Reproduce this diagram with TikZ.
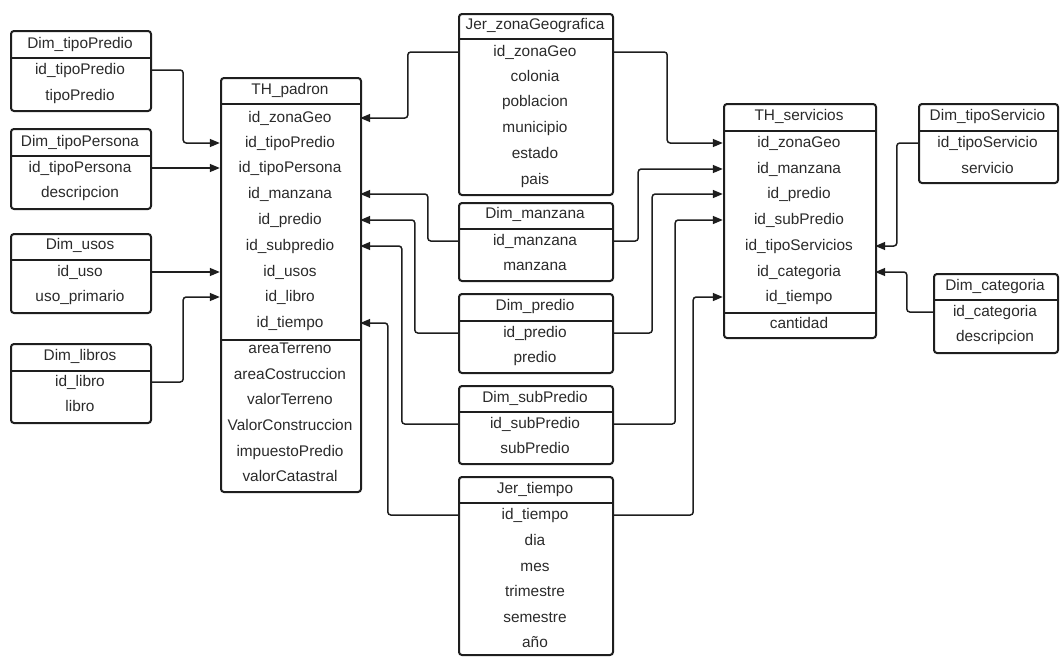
\documentclass[tikz,border=0pt]{standalone}
\usepackage{fontspec}
\setmainfont{Liberation Sans}
\usetikzlibrary{arrows.meta}
\definecolor{ink}{HTML}{1E1E1E}
\definecolor{txt}{HTML}{2A2A2A}
\tikzset{
  tbl/.style={draw=ink, line width=2pt, rounded corners=3pt, inner sep=0pt, anchor=north west},
  hsep/.style={draw=ink, line width=2pt},
  msep/.style={draw=ink, line width=1.1pt},
  row/.style={inner sep=0pt, align=center, text=txt, font=\fontsize{15.4}{18}\selectfont, text height=11pt, text depth=2pt},
  conn/.style={draw=ink, line width=1.5pt, rounded corners=3pt, -{Triangle[length=10pt,width=8pt]}}
}
\begin{document}
\begin{tikzpicture}[x=1pt,y=-1pt]
\useasboundingbox (0,0) rectangle (1060,656);

% ---------- Dim_tipoPredio
\node[tbl, minimum width=140pt, minimum height=80pt] (tPbox) at (10,30) {};
\draw[hsep] (10,58) -- (150,58);
\node[row, text width=140pt] (tPh) at (80,44) {Dim\_tipoPredio};
\node[row, text width=140pt] (tP1) at (80,70) {id\_tipoPredio};
\node[row, text width=140pt] (tP2) at (80,96) {tipoPredio};

% ---------- Dim_tipoPersona
\node[tbl, minimum width=140pt, minimum height=80pt] (tEbox) at (10,128) {};
\draw[hsep] (10,156) -- (150,156);
\node[row, text width=140pt] (tEh) at (80,142) {Dim\_tipoPersona};
\node[row, text width=140pt] (tE1) at (80,168) {id\_tipoPersona};
\node[row, text width=140pt] (tE2) at (80,193) {descripcion};

% ---------- Dim_usos
\node[tbl, minimum width=140pt, minimum height=79pt] (usbox) at (10,233) {};
\draw[hsep] (10,260) -- (150,260);
\node[row, text width=140pt] (ush) at (80,245) {Dim\_usos};
\node[row, text width=140pt] (us1) at (80,272) {id\_uso};
\node[row, text width=140pt] (us2) at (80,297) {uso\_primario};

% ---------- Dim_libros
\node[tbl, minimum width=140pt, minimum height=79pt] (lbbox) at (10,343) {};
\draw[hsep] (10,371) -- (150,371);
\node[row, text width=140pt] (lbh) at (80,356) {Dim\_libros};
\node[row, text width=140pt] (lb1) at (80,382) {id\_libro};
\node[row, text width=140pt] (lb2) at (80,407) {libro};

% ---------- TH_padron
\node[tbl, minimum width=140pt, minimum height=414pt] (pdbox) at (220,77) {};
\draw[hsep] (220,104) -- (360,104);
\draw[msep] (220,340) -- (360,340);
\node[row, text width=140pt] (pdh) at (290,90) {TH\_padron};
\node[row, text width=140pt] (pd1) at (290,118) {id\_zonaGeo};
\node[row, text width=140pt] (pd2) at (290,143) {id\_tipoPredio};
\node[row, text width=140pt] (pd3) at (290,168) {id\_tipoPersona};
\node[row, text width=140pt] (pd4) at (290,194) {id\_manzana};
\node[row, text width=140pt] (pd5) at (290,220) {id\_predio};
\node[row, text width=140pt] (pd6) at (290,246) {id\_subpredio};
\node[row, text width=140pt] (pd7) at (290,272) {id\_usos};
\node[row, text width=140pt] (pd8) at (290,297) {id\_libro};
\node[row, text width=140pt] (pd9) at (290,323) {id\_tiempo};
\node[row, text width=140pt] (pm1) at (290,349) {areaTerreno};
\node[row, text width=140pt] (pm2) at (290,375) {areaCostruccion};
\node[row, text width=140pt] (pm3) at (290,400) {valorTerreno};
\node[row, text width=140pt] (pm4) at (290,426) {ValorConstruccion};
\node[row, text width=140pt] (pm5) at (290,452) {impuestoPredio};
\node[row, text width=140pt] (pm6) at (290,477) {valorCatastral};

% ---------- Jer_zonaGeografica
\node[tbl, minimum width=154pt, minimum height=181pt] (zgbox) at (458,13) {};
\draw[hsep] (458,39) -- (612,39);
\node[row, text width=154pt] (zgh) at (535,25) {Jer\_zonaGeografica};
\node[row, text width=154pt] (zg1) at (535,52) {id\_zonaGeo};
\node[row, text width=154pt] (zg2) at (535,77) {colonia};
\node[row, text width=154pt] (zg3) at (535,102) {poblacion};
\node[row, text width=154pt] (zg4) at (535,128) {municipio};
\node[row, text width=154pt] (zg5) at (535,154) {estado};
\node[row, text width=154pt] (zg6) at (535,180) {pais};

% ---------- Dim_manzana
\node[tbl, minimum width=154pt, minimum height=78pt] (mzbox) at (458,202) {};
\draw[hsep] (458,229) -- (612,229);
\node[row, text width=154pt] (mzh) at (535,214) {Dim\_manzana};
\node[row, text width=154pt] (mz1) at (535,241) {id\_manzana};
\node[row, text width=154pt] (mz2) at (535,266) {manzana};

% ---------- Dim_predio
\node[tbl, minimum width=154pt, minimum height=79pt] (prbox) at (458,293) {};
\draw[hsep] (458,321) -- (612,321);
\node[row, text width=154pt] (prh) at (535,306) {Dim\_predio};
\node[row, text width=154pt] (pr1) at (535,333) {id\_predio};
\node[row, text width=154pt] (pr2) at (535,358) {predio};

% ---------- Dim_subPredio
\node[tbl, minimum width=154pt, minimum height=78pt] (spbox) at (458,385) {};
\draw[hsep] (458,412) -- (612,412);
\node[row, text width=154pt] (sph) at (535,398) {Dim\_subPredio};
\node[row, text width=154pt] (sp1) at (535,424) {id\_subPredio};
\node[row, text width=154pt] (sp2) at (535,449) {subPredio};

% ---------- Jer_tiempo
\node[tbl, minimum width=154pt, minimum height=178pt] (jtbox) at (458,476) {};
\draw[hsep] (458,503) -- (612,503);
\node[row, text width=154pt] (jth) at (535,489) {Jer\_tiempo};
\node[row, text width=154pt] (jt1) at (535,515) {id\_tiempo};
\node[row, text width=154pt] (jt2) at (535,541) {dia};
\node[row, text width=154pt] (jt3) at (535,567) {mes};
\node[row, text width=154pt] (jt4) at (535,592) {trimestre};
\node[row, text width=154pt] (jt5) at (535,618) {semestre};
\node[row, text width=154pt] (jt6) at (535,643) {año};

% ---------- TH_servicios
\node[tbl, minimum width=152pt, minimum height=234pt] (svbox) at (723,103) {};
\draw[hsep] (723,131) -- (875,131);
\draw[msep] (723,313) -- (875,313);
\node[row, text width=152pt] (svh) at (799,116) {TH\_servicios};
\node[row, text width=152pt] (sv1) at (799,143) {id\_zonaGeo};
\node[row, text width=152pt] (sv2) at (799,169) {id\_manzana};
\node[row, text width=152pt] (sv3) at (799,194) {id\_predio};
\node[row, text width=152pt] (sv4) at (799,220) {id\_subPredio};
\node[row, text width=152pt] (sv5) at (799,246) {id\_tipoServicios};
\node[row, text width=152pt] (sv6) at (799,272) {id\_categoria};
\node[row, text width=152pt] (sv7) at (799,297) {id\_tiempo};
\node[row, text width=152pt] (sm1) at (799,324) {cantidad};

% ---------- Dim_tipoServicio
\node[tbl, minimum width=139pt, minimum height=79pt] (tsbox) at (918,103) {};
\draw[hsep] (918,131) -- (1057,131);
\node[row, text width=139pt] (tsh) at (987.5,116) {Dim\_tipoServicio};
\node[row, text width=139pt] (ts1) at (987.5,143) {id\_tipoServicio};
\node[row, text width=139pt] (ts2) at (987.5,169) {servicio};

% ---------- Dim_categoria
\node[tbl, minimum width=124pt, minimum height=79pt] (ctbox) at (933,273) {};
\draw[hsep] (933,300) -- (1057,300);
\node[row, text width=124pt] (cth) at (995,286) {Dim\_categoria};
\node[row, text width=124pt] (ct1) at (995,312) {id\_categoria};
\node[row, text width=124pt] (ct2) at (995,337) {descripcion};

% ---------- connectors to TH_padron
\draw[conn] (tP1.east) -- ++(33,0) |- (pd2.west);
\draw[conn] (tE1.east) -- (pd3.west);
\draw[conn] (us1.east) -- (pd7.west);
\draw[conn] (lb1.east) -- ++(33,0) |- (pd8.west);
\draw[conn] (zg1.west) -- ++(-50,0) |- (pd1.east);
\draw[conn] (mz1.west) -- ++(-30,0) |- (pd4.east);
\draw[conn] (pr1.west) -- ++(-43,0) |- (pd5.east);
\draw[conn] (sp1.west) -- ++(-56,0) |- (pd6.east);
\draw[conn] (jt1.west) -- ++(-70,0) |- (pd9.east);

% ---------- connectors to TH_servicios
\draw[conn] (zg1.east) -- ++(55,0) |- (sv1.west);
\draw[conn] (mz1.east) -- ++(26,0) |- (sv2.west);
\draw[conn] (pr1.east) -- ++(40,0) |- (sv3.west);
\draw[conn] (sp1.east) -- ++(63,0) |- (sv4.west);
\draw[conn] (jt1.east) -- ++(81,0) |- (sv7.west);
\draw[conn] (ts1.west) -- ++(-21,0) |- (sv5.east);
\draw[conn] (ct1.west) -- ++(-26,0) |- (sv6.east);
\end{tikzpicture}
\end{document}
